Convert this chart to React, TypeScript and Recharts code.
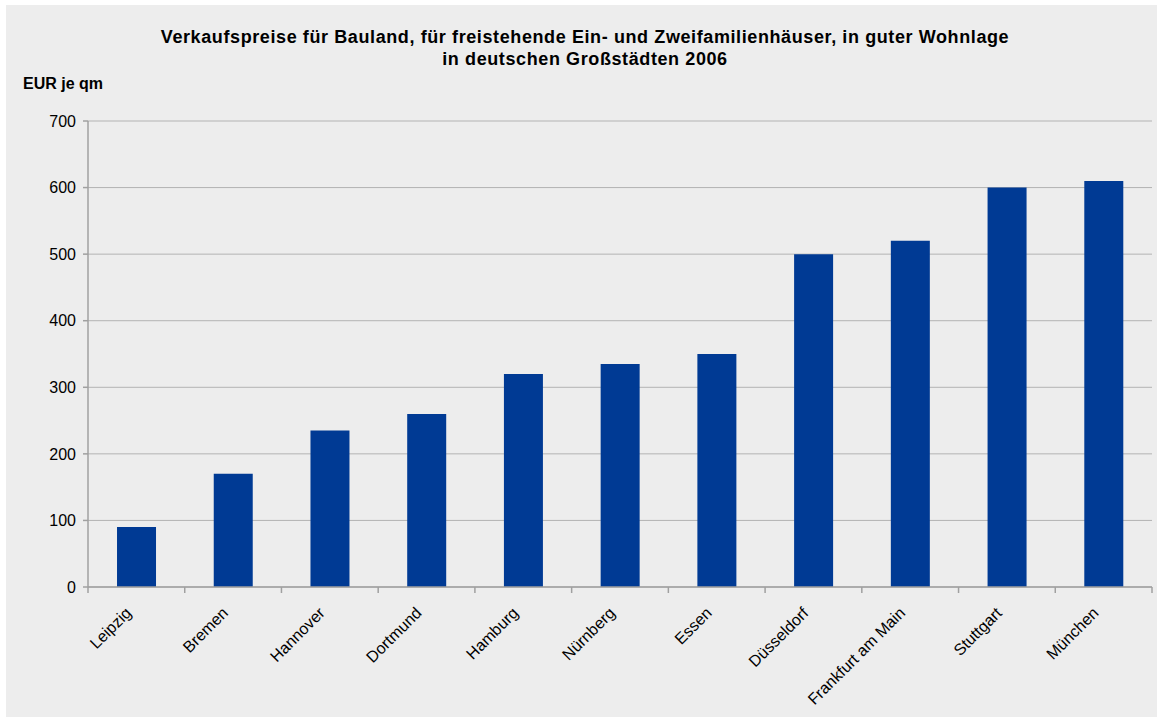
import React from 'react';
import { BarChart, Bar, XAxis, YAxis, CartesianGrid } from 'recharts';

const cities = ['Leipzig', 'Bremen', 'Hannover', 'Dortmund', 'Hamburg', 'Nürnberg', 'Essen', 'Düsseldorf', 'Frankfurt am Main', 'Stuttgart', 'München'];
const prices = [90, 170, 235, 260, 320, 335, 350, 500, 520, 600, 610];
const yTicks = [0, 100, 200, 300, 400, 500, 600, 700];

const data = cities.map((name, i) => ({ name, price: prices[i] }));

const AXIS = '#a0a0a0';
const FONT = 'Arial, "Liberation Sans", sans-serif';

const CityTick = (props: any) => {
  const { x, y, payload, index } = props;
  const half = payload && payload.offset ? payload.offset : 48.4;
  const tx = x - 4;
  const ty = y + 19;
  return (
    <g>
      <line x1={x - half} y1={y - 8} x2={x - half} y2={y - 2} stroke={AXIS} strokeWidth={1.5} />
      {index === cities.length - 1 && (
        <line x1={x + half} y1={y - 8} x2={x + half} y2={y - 2} stroke={AXIS} strokeWidth={1.5} />
      )}
      <text
        x={tx}
        y={ty}
        textAnchor="end"
        fontSize={16}
        fill="#000"
        fontFamily={FONT}
        transform={`rotate(-45, ${tx}, ${ty})`}
      >
        {payload.value}
      </text>
    </g>
  );
};

export default function App() {
  return (
    <div style={{ position: 'relative', width: 1157, height: 717, background: '#fff', fontFamily: FONT }}>
      <style>{'body{margin:0}'}</style>
      <div style={{ position: 'absolute', left: 6, top: 5, width: 1151, height: 712, background: '#ededed' }}>
        <div style={{ position: 'absolute', left: 0, top: 21, width: 1158, textAlign: 'center', fontWeight: 'bold', fontSize: 18, letterSpacing: 0.6, lineHeight: '22px', color: '#000' }}>
          Verkaufspreise für Bauland, für freistehende Ein- und Zweifamilienhäuser, in guter Wohnlage
          <br />
          in deutschen Großstädten 2006
        </div>
        <div style={{ position: 'absolute', left: 17, top: 70, fontWeight: 'bold', fontSize: 16, color: '#000' }}>EUR je qm</div>
        <BarChart
          width={1151}
          height={712}
          data={data}
          margin={{ top: 116, right: 5, bottom: 0, left: 12 }}
          barCategoryGap="30%"
        >
          <CartesianGrid vertical={false} stroke="#b3b3b3" strokeWidth={1} />
          <XAxis
            dataKey="name"
            height={130}
            axisLine={{ stroke: AXIS, strokeWidth: 1.5 }}
            tickLine={false}
            interval={0}
            tick={<CityTick />}
          />
          <YAxis
            domain={[0, 700]}
            ticks={yTicks}
            width={70}
            axisLine={{ stroke: AXIS, strokeWidth: 1.5 }}
            tickLine={{ stroke: AXIS, strokeWidth: 1.5 }}
            tickSize={5}
            tickMargin={7}
            tick={{ fontSize: 16, fill: '#000', fontFamily: FONT }}
          />
          <YAxis
            yAxisId="right"
            orientation="right"
            domain={[0, 700]}
            width={0}
            ticks={[]}
            tick={false}
            tickLine={false}
            axisLine={{ stroke: AXIS, strokeWidth: 1.5 }}
          />
          <Bar dataKey="price" fill="#003a94" isAnimationActive={false} />
        </BarChart>
      </div>
    </div>
  );
}
